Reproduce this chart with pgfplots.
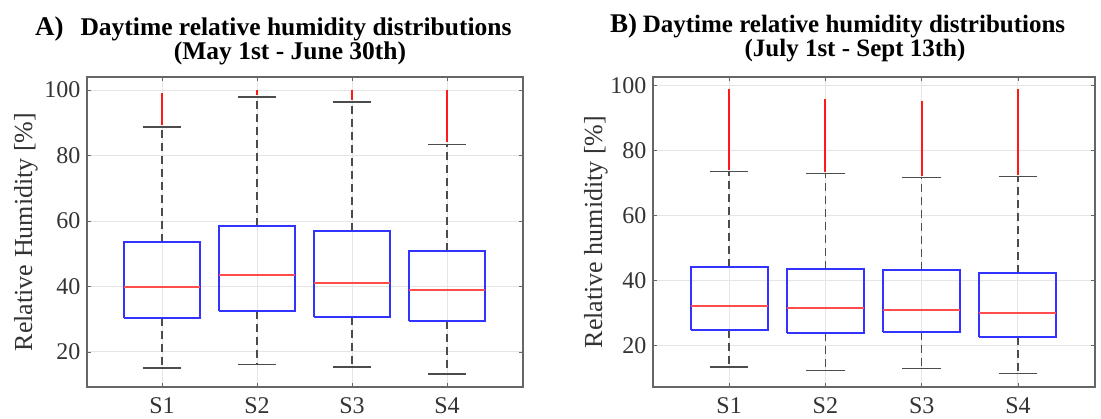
\documentclass[border=0pt]{standalone}
\usepackage{fontspec}
\setmainfont{Liberation Serif}
\usepackage{pgfplots}
\pgfplotsset{compat=1.18}
\definecolor{axgray}{gray}{0.4}
\definecolor{tickgray}{gray}{0.2}
\definecolor{gridgray}{gray}{0.9}
\definecolor{whiskgray}{gray}{0.3}
\definecolor{boxblue}{rgb}{0.2,0.2,1}
\definecolor{medred}{rgb}{1,0.3,0.3}
\definecolor{outred}{rgb}{1,0.1,0.1}
\pgfplotsset{
  bxs/.style={boxblue, line width=2pt, forget plot},
  meds/.style={medred, line width=2pt, forget plot},
  whs/.style={whiskgray, line width=1.5pt, dash pattern=on 8pt off 5pt, forget plot},
  caps/.style={whiskgray, line width=1.5pt, forget plot},
  outl/.style={outred, line width=2.1pt, forget plot},
  myaxis/.style={
    scale only axis, height=310pt,
    xmin=0.21, xmax=4.8,
    xtick={1,2,3,4}, xticklabels={S1,S2,S3,S4},
    ytick={20,40,60,80,100},
    grid=major, major grid style={gridgray, line width=1pt},
    axis line style={axgray, line width=1.1pt},
    tick style={axgray, line width=0.9pt},
    major tick length=4pt, tick align=inside,
    /pgf/number format/assume math mode=true,
    ticklabel style={font=\fontsize{24}{24}\selectfont, text=tickgray},
    xticklabel style={yshift=-7pt},
    yticklabel style={xshift=-3pt},
  },
}
\begin{document}
\begin{tikzpicture}
\path[use as bounding box] (0,0) rectangle (1101pt,418pt);
% ---------- Panel A ----------
\begin{axis}[myaxis, at={(87pt,31pt)}, anchor=south west, width=436pt,
  ymin=9.3, ymax=104,
  every axis y label/.style={at={(axis description cs:-0.126,0.5)}, rotate=90, anchor=base, inner sep=0pt, font=\fontsize{26}{26}\selectfont, text=tickgray},
  ylabel={Relative Humidity [\%]}]
% S1
\addplot[whs] coordinates {(1,30.4) (1,15.1)};
\addplot[whs] coordinates {(1,53.6) (1,88.8)};
\addplot[caps] coordinates {(0.8,15.1) (1.2,15.1)};
\addplot[caps] coordinates {(0.8,88.8) (1.2,88.8)};
\addplot[bxs] coordinates {(0.6,30.4) (1.4,30.4) (1.4,53.6) (0.6,53.6) (0.6,30.4)};
\addplot[meds] coordinates {(0.6,39.8) (1.4,39.8)};
\addplot[outl] coordinates {(1,89.4) (1,99.1)};
% S2
\addplot[whs] coordinates {(2,32.6) (2,16.1)};
\addplot[whs] coordinates {(2,58.6) (2,97.9)};
\addplot[caps] coordinates {(1.8,16.1) (2.2,16.1)};
\addplot[caps] coordinates {(1.8,97.9) (2.2,97.9)};
\addplot[bxs] coordinates {(1.6,32.6) (2.4,32.6) (2.4,58.6) (1.6,58.6) (1.6,32.6)};
\addplot[meds] coordinates {(1.6,43.4) (2.4,43.4)};
\addplot[outl] coordinates {(2,98.4) (2,99.9)};
% S3
\addplot[whs] coordinates {(3,30.6) (3,15.4)};
\addplot[whs] coordinates {(3,57.0) (3,96.4)};
\addplot[caps] coordinates {(2.8,15.4) (3.2,15.4)};
\addplot[caps] coordinates {(2.8,96.4) (3.2,96.4)};
\addplot[bxs] coordinates {(2.6,30.6) (3.4,30.6) (3.4,57.0) (2.6,57.0) (2.6,30.6)};
\addplot[meds] coordinates {(2.6,41.2) (3.4,41.2)};
\addplot[outl] coordinates {(3,96.9) (3,99.9)};
% S4
\addplot[whs] coordinates {(4,29.6) (4,13.3)};
\addplot[whs] coordinates {(4,50.9) (4,83.4)};
\addplot[caps] coordinates {(3.8,13.3) (4.2,13.3)};
\addplot[caps] coordinates {(3.8,83.4) (4.2,83.4)};
\addplot[bxs] coordinates {(3.6,29.6) (4.4,29.6) (4.4,50.9) (3.6,50.9) (3.6,29.6)};
\addplot[meds] coordinates {(3.6,38.9) (4.4,38.9)};
\addplot[outl, line width=2.8pt] coordinates {(4,84.0) (4,99.9)};
\end{axis}
\node[anchor=base west, inner sep=0pt, font=\fontsize{27}{27}\selectfont\bfseries] at (35pt,382pt) {A)};
\node[anchor=base, inner sep=0pt, font=\fontsize{25.5}{25.5}\selectfont\bfseries] at (296pt,382pt) {Daytime relative humidity distributions};
\node[anchor=base, inner sep=0pt, font=\fontsize{25.5}{25.5}\selectfont\bfseries] at (290pt,358pt) {(May 1st - June 30th)};
% ---------- Panel B ----------
\begin{axis}[myaxis, at={(653pt,31pt)}, anchor=south west, width=442pt,
  ymin=7.4, ymax=102.5,
  every axis y label/.style={at={(axis description cs:-0.115,0.5)}, rotate=90, anchor=base, inner sep=0pt, font=\fontsize{26}{26}\selectfont, text=tickgray},
  ylabel={Relative humidity [\%]}]
% S1
\addplot[whs] coordinates {(1,24.9) (1,13.6)};
\addplot[whs] coordinates {(1,44.3) (1,73.5)};
\addplot[caps] coordinates {(0.8,13.6) (1.2,13.6)};
\addplot[caps] coordinates {(0.8,73.5) (1.2,73.5)};
\addplot[bxs] coordinates {(0.6,24.9) (1.4,24.9) (1.4,44.3) (0.6,44.3) (0.6,24.9)};
\addplot[meds] coordinates {(0.6,32.4) (1.4,32.4)};
\addplot[outl] coordinates {(1,74.0) (1,98.7)};
% S2
\addplot[whs] coordinates {(2,24.1) (2,12.5)};
\addplot[whs] coordinates {(2,43.6) (2,72.9)};
\addplot[caps] coordinates {(1.8,12.5) (2.2,12.5)};
\addplot[caps] coordinates {(1.8,72.9) (2.2,72.9)};
\addplot[bxs] coordinates {(1.6,24.1) (2.4,24.1) (2.4,43.6) (1.6,43.6) (1.6,24.1)};
\addplot[meds] coordinates {(1.6,31.7) (2.4,31.7)};
\addplot[outl] coordinates {(2,73.4) (2,95.8)};
% S3
\addplot[whs] coordinates {(3,24.3) (3,13.0)};
\addplot[whs] coordinates {(3,43.3) (3,71.6)};
\addplot[caps] coordinates {(2.8,13.0) (3.2,13.0)};
\addplot[caps] coordinates {(2.8,71.6) (3.2,71.6)};
\addplot[bxs] coordinates {(2.6,24.3) (3.4,24.3) (3.4,43.3) (2.6,43.3) (2.6,24.3)};
\addplot[meds] coordinates {(2.6,31.1) (3.4,31.1)};
\addplot[outl] coordinates {(3,72.1) (3,95.0)};
% S4
\addplot[whs] coordinates {(4,22.6) (4,11.5)};
\addplot[whs] coordinates {(4,42.4) (4,71.9)};
\addplot[caps] coordinates {(3.8,11.5) (4.2,11.5)};
\addplot[caps] coordinates {(3.8,71.9) (4.2,71.9)};
\addplot[bxs] coordinates {(3.6,22.6) (4.4,22.6) (4.4,42.4) (3.6,42.4) (3.6,22.6)};
\addplot[meds] coordinates {(3.6,30.0) (4.4,30.0)};
\addplot[outl] coordinates {(4,72.4) (4,98.7)};
\end{axis}
\node[anchor=base west, inner sep=0pt, font=\fontsize{27}{27}\selectfont\bfseries] at (610pt,385pt) {B)};
\node[anchor=base, inner sep=0pt, font=\fontsize{25}{25}\selectfont\bfseries] at (854pt,385pt) {Daytime relative humidity distributions};
\node[anchor=base, inner sep=0pt, font=\fontsize{25}{25}\selectfont\bfseries] at (855pt,361pt) {(July 1st - Sept 13th)};
\end{tikzpicture}
\end{document}
